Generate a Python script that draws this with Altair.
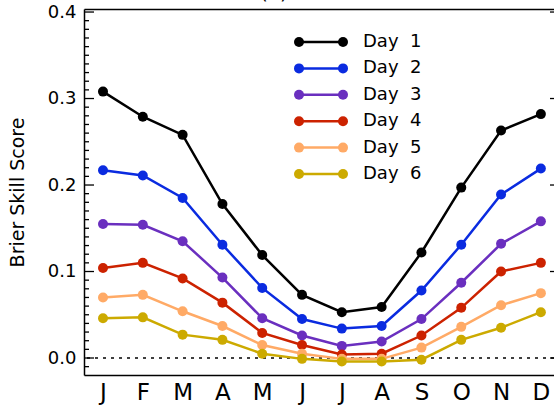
import json
import altair as alt
import pandas as pd

# ---------------- data ----------------
months = ["J", "F", "M", "A", "M", "J", "J", "A", "S", "O", "N", "D"]
month_idx = [1, 2, 3, 4, 5, 6, 7, 8, 9, 10, 11, 12]
days = ["Day 1", "Day 2", "Day 3", "Day 4", "Day 5", "Day 6"]
day_labels = ["Day\u00a0\u00a01", "Day\u00a0\u00a02", "Day\u00a0\u00a03",
              "Day\u00a0\u00a04", "Day\u00a0\u00a05", "Day\u00a0\u00a06"]
colors = ["#000000", "#0a2be0", "#6a2fbf", "#cc2200", "#ffaa66", "#ccaa00"]

day1 = [0.308, 0.279, 0.258, 0.178, 0.119, 0.073, 0.053, 0.059, 0.122, 0.197, 0.263, 0.282]
day2 = [0.217, 0.211, 0.185, 0.131, 0.081, 0.045, 0.034, 0.037, 0.078, 0.131, 0.189, 0.219]
day3 = [0.155, 0.154, 0.135, 0.093, 0.046, 0.026, 0.014, 0.019, 0.045, 0.087, 0.132, 0.158]
day4 = [0.104, 0.110, 0.092, 0.064, 0.029, 0.015, 0.004, 0.005, 0.026, 0.058, 0.100, 0.110]
day5 = [0.070, 0.073, 0.054, 0.037, 0.015, 0.005, -0.001, -0.001, 0.012, 0.036, 0.061, 0.075]
day6 = [0.046, 0.047, 0.027, 0.021, 0.005, -0.001, -0.004, -0.004, -0.002, 0.021, 0.035, 0.053]
series = [day1, day2, day3, day4, day5, day6]

y_major = [0.0, 0.1, 0.2, 0.3, 0.4]
y_minor = [round(i / 100, 2) for i in range(-1, 41) if i % 10 != 0]
panel_label = ["(a)"]

rows = []
for d, vals in zip(days, series):
    for m, v in zip(month_idx, vals):
        rows.append({"month": m, "day": d, "bss": v})
df = pd.DataFrame(rows)

FONT = "DejaVu Sans"
W, H = 470, 366

xs = alt.Scale(domain=[0.5226, 12.33], nice=False, zero=False)
ys = alt.Scale(domain=[-0.01965, 0.4035], nice=False, zero=False)
cs = alt.Scale(domain=days, range=colors)

bottom_axis = alt.Axis(
    orient="bottom", values=month_idx, labelExpr=f"{json.dumps(months)}[datum.value - 1]",
    ticks=False, grid=False, title=None, domainColor="black", domainWidth=1.5,
    labelFont=FONT, labelFontSize=23, labelColor="black", labelPadding=6,
    labelFlush=False, labelOverlap=False,
)
top_axis = alt.Axis(orient="top", labels=False, ticks=False, grid=False, title=None,
                    domainColor="black", domainWidth=1.5)
left_axis = alt.Axis(
    orient="left", values=y_major, format=".1f", ticks=False, grid=False,
    domainColor="black", domainWidth=1.5, labelFont=FONT, labelFontSize=18,
    labelColor="black", labelPadding=8, labelFlush=False,
    title="Brier Skill Score", titleFont=FONT, titleFontSize=19, titleFontWeight="normal",
    titleColor="black", titlePadding=20,
)

color_enc = alt.Color("day:N", scale=cs, legend=None)

lines = alt.Chart(df).mark_line(strokeWidth=2.5).encode(
    x=alt.X("month:Q", scale=xs, axis=bottom_axis),
    y=alt.Y("bss:Q", scale=ys, axis=left_axis),
    color=color_enc,
)
points = alt.Chart(df).mark_point(filled=True, size=100, opacity=1).encode(
    x=alt.X("month:Q", scale=xs, axis=top_axis),
    y=alt.Y("bss:Q", scale=ys, axis=None),
    color=color_enc,
)

zero_line = alt.Chart(pd.DataFrame({"z": [0.0]})).mark_rule(
    strokeDash=[3, 5], color="black", strokeWidth=1.3
).encode(y=alt.Y("z:Q", scale=ys, axis=None))

maj_df = pd.DataFrame({"t": y_major})
min_df = pd.DataFrame({"t": y_minor})
ticks_major = alt.Chart(maj_df).mark_rule(color="black", strokeWidth=1.3).encode(
    y=alt.Y("t:Q", scale=ys, axis=None), x=alt.value(0), x2=alt.value(10))
ticks_minor = alt.Chart(min_df).mark_rule(color="black", strokeWidth=1.3).encode(
    y=alt.Y("t:Q", scale=ys, axis=None), x=alt.value(0), x2=alt.value(5))
ticks_right = alt.Chart(maj_df).mark_rule(color="black", strokeWidth=1.3).encode(
    y=alt.Y("t:Q", scale=ys, axis=None), x=alt.value(W - 4), x2=alt.value(W))

# ---------------- legend ----------------
leg_df = pd.DataFrame({"day": days, "label": day_labels})
ly = alt.Y("day:N", scale=alt.Scale(type="point", domain=days, range=[33, 165], padding=0), axis=None)
leg_rule = alt.Chart(leg_df).mark_rule(strokeWidth=2.5).encode(
    y=ly, x=alt.value(215), x2=alt.value(259), color=color_enc)
leg_pl = alt.Chart(leg_df).mark_point(filled=True, size=100, opacity=1).encode(
    y=ly, x=alt.value(215), color=color_enc)
leg_pr = alt.Chart(leg_df).mark_point(filled=True, size=100, opacity=1).encode(
    y=ly, x=alt.value(259), color=color_enc)
leg_text = alt.Chart(leg_df).mark_text(align="left", baseline="middle", fontSize=18,
                                       font=FONT, color="black").encode(
    y=ly, x=alt.value(279), text="label:N")

title_txt = alt.Chart(pd.DataFrame({"t": panel_label})).mark_text(
    fontSize=20, font=FONT, baseline="alphabetic", align="center", color="black"
).encode(text="t:N", x=alt.value(190), y=alt.value(-10))

chart = alt.layer(
    zero_line, ticks_major, ticks_minor, ticks_right, lines, points,
    leg_rule, leg_pl, leg_pr, leg_text, title_txt,
).resolve_scale(y="independent").properties(
    width=W, height=H,
    padding={"left": 84, "top": 9, "right": 0, "bottom": 31},
    autosize=alt.AutoSizeParams(type="none"),
    background="white",
).configure_view(stroke=None)

chart.save("out.html", embed_options={"renderer": "svg", "actions": False})
